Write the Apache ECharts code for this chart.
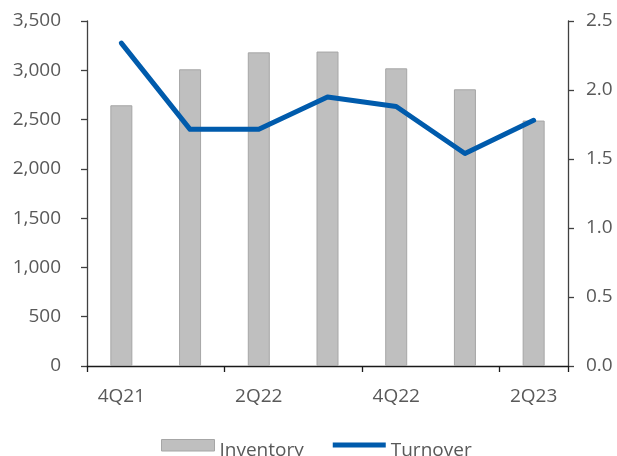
<!DOCTYPE html>
<html>
<head>
<meta charset="utf-8">
<script src="https://cdn.jsdelivr.net/npm/echarts@6/dist/echarts.min.js"></script>
<style>
  html, body { margin: 0; padding: 0; background: #fff; }
  #chart { width: 617px; height: 456px; }
</style>
</head>
<body>
<div id="chart"></div>
<script>
// Quarterly inventory (left axis) and inventory turnover (right axis)
const quarters = ['4Q21', '1Q22', '2Q22', '3Q22', '4Q22', '1Q23', '2Q23'];
const inventory = [2645, 3010, 3182, 3190, 3020, 2807, 2490];
const turnover = [2.34, 1.715, 1.715, 1.95, 1.88, 1.54, 1.78];
const leftTicks = { min: 0, max: 3500, interval: 500 };
const rightTicks = { min: 0, max: 2.5, interval: 0.5 };

const FONT = 'Open Sans';
const labelColor = '#595959';
const lineColor = '#005bac';

const chart = echarts.init(document.getElementById('chart'), null, { renderer: 'canvas' });

// Legend markers sit slightly above the text centre line, so each icon is a
// path inside a 53x30 box with the visible shape in its upper part.
const ICON_W = 53, ICON_H = 30;
const boxIcon = `path://M0,0 M0,4 L${ICON_W},4 L${ICON_W},15.5 L0,15.5 Z M${ICON_W},${ICON_H}`;
const lineIcon = `path://M0,0 M0,7 L${ICON_W},7 L${ICON_W},12 L0,12 Z M${ICON_W},${ICON_H}`;

chart.setOption({
  animation: false,
  backgroundColor: '#ffffff',
  textStyle: { fontFamily: FONT },
  grid: { left: 87, right: 49, top: 21, bottom: 90, containLabel: false },
  legend: {
    left: 161,
    top: 435,
    padding: 0,
    itemWidth: ICON_W,
    itemHeight: ICON_H,
    itemGap: 29,
    textStyle: { fontFamily: FONT, fontSize: 19, color: labelColor },
    data: [
      { name: 'Inventory', icon: boxIcon, itemStyle: { color: '#bfbfbf', borderColor: '#a6a6a6', borderWidth: 1 } },
      { name: 'Turnover', icon: lineIcon, itemStyle: { color: lineColor, borderWidth: 0 } }
    ]
  },
  xAxis: {
    type: 'category',
    data: quarters,
    boundaryGap: true,
    axisLine: { lineStyle: { color: '#1a1a1a', width: 1.3 } },
    axisTick: { show: true, interval: 1, length: 6, lineStyle: { color: '#1a1a1a', width: 1.3 } },
    axisLabel: { interval: 1, margin: 21, fontFamily: FONT, fontSize: 19, color: labelColor }
  },
  yAxis: [
    {
      type: 'value',
      min: leftTicks.min,
      max: leftTicks.max,
      interval: leftTicks.interval,
      splitLine: { show: false },
      axisLine: { show: true, lineStyle: { color: '#404040', width: 1.3 } },
      axisTick: { show: true, length: 6, lineStyle: { color: '#404040', width: 1.3 } },
      axisLabel: {
        margin: 26, fontFamily: FONT, fontSize: 19, color: labelColor,
        formatter: v => v.toLocaleString('en-US')
      }
    },
    {
      type: 'value',
      position: 'right',
      min: rightTicks.min,
      max: rightTicks.max,
      interval: rightTicks.interval,
      splitLine: { show: false },
      axisLine: { show: true, lineStyle: { color: '#404040', width: 1.3 } },
      axisTick: { show: true, length: 6, lineStyle: { color: '#404040', width: 1.3 } },
      axisLabel: {
        margin: 18, fontFamily: FONT, fontSize: 19, color: labelColor,
        formatter: v => v.toFixed(1)
      }
    }
  ],
  series: [
    {
      name: 'Inventory',
      type: 'bar',
      yAxisIndex: 0,
      data: inventory,
      barWidth: 22,
      itemStyle: { color: '#bfbfbf', borderColor: '#a6a6a6', borderWidth: 1 }
    },
    {
      name: 'Turnover',
      type: 'line',
      yAxisIndex: 1,
      data: turnover,
      symbol: 'none',
      lineStyle: { color: lineColor, width: 5, cap: 'round', join: 'round' },
      itemStyle: { color: lineColor }
    }
  ]
});
</script>
</body>
</html>
